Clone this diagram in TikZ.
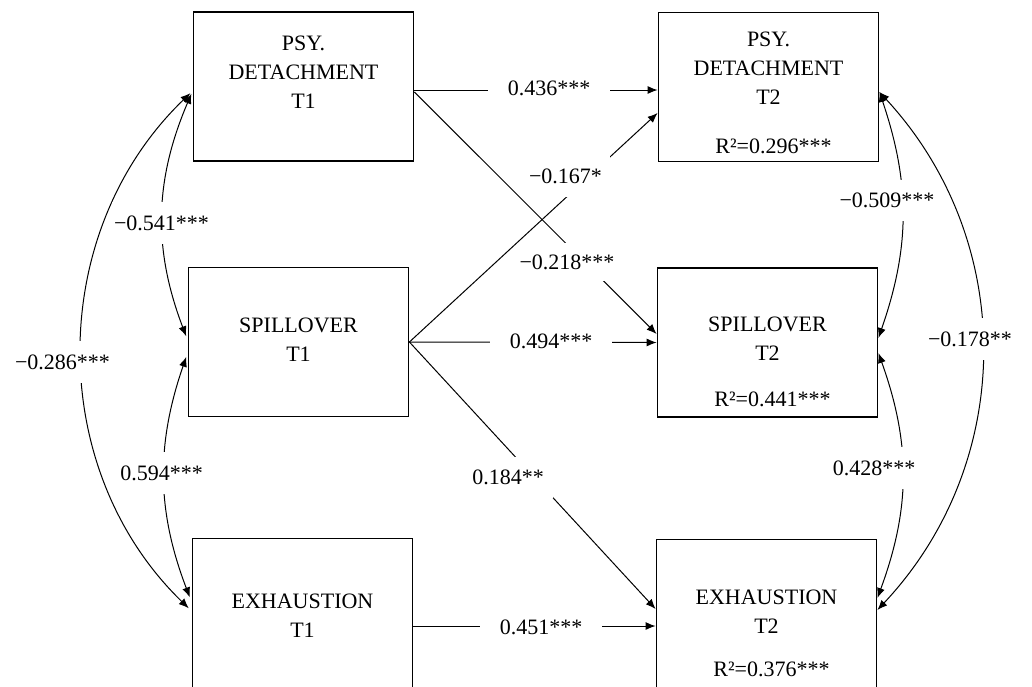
\documentclass[tikz,border=0pt]{standalone}
\usepackage{fontspec}
\setmainfont{Liberation Serif}
\usetikzlibrary{arrows.meta,positioning}

\tikzset{
  box/.style={draw,line width=0.9pt,minimum width=110pt,minimum height=74.5pt,inner sep=0pt},
  txt/.style={align=center,inner sep=0pt},
  lnk/.style={line width=0.5pt},
  coef/.style={fill=white,inner xsep=1pt,inner ysep=6.6pt}
}

\begin{document}
\begin{tikzpicture}[x=0.5pt,y=-0.5pt,font=\fontsize{11}{14.5}\selectfont,
    >={Latex[length=5pt,width=4pt]}]
  \useasboundingbox (0,0) rectangle (1032,686);
  % T1
  \node[box] (P1) at (303.5,86.5) {};
  \node[box] (S1) at (298.5,342) {};
  \node[box] (E1) at (302.5,613) {};
  % T2
  \node[box] (P2) at (768.5,87) {};
  \node[box] (S2) at (767.5,342.5) {};
  \node[box] (E2) at (766.5,614) {};
  \node[txt,below=12pt of P1.north] (P1t) {PSY.\\DETACHMENT\\T1};
  \node[txt,below=25.5pt of S1.north] (S1t) {SPILLOVER\\T1};
  \node[txt,below=28pt of E1.north] (E1t) {EXHAUSTION\\T1};
  \node[txt,below=10pt of P2.north] (P2t) {PSY.\\DETACHMENT\\T2\\[10pt]\hspace*{5pt}R²=0.296***};
  \node[txt,below=24.5pt of S2.north] (S2t) {SPILLOVER\\T2\\[8.5pt]\hspace*{5pt}R²=0.441***};
  \node[txt,below=25.5pt of E2.north] (E2t) {EXHAUSTION\\T2\\[7pt]\hspace*{5pt}R²=0.376***};

  % paths T1 -> T2
  \draw[lnk,->] ([yshift=-1.75pt]P1.east) -- ([yshift=-1.5pt]P2.west);
  \draw[lnk,->] (S1.east) -- (S2.west);
  \draw[lnk,->] ([yshift=-6.5pt]E1.east) -- ([yshift=-6pt]E2.west);
  \draw[lnk,->] ([yshift=-2.75pt]P1.east) -- ([yshift=4.25pt]S2.west);
  \draw[lnk,->] (S1.east) -- ([yshift=-13pt]P2.west);
  \draw[lnk,->] (S1.east) -- ([yshift=2.5pt]E2.west);

  % correlations
  \draw[lnk,<->,shorten <=1.5pt,shorten >=2pt] ([yshift=-2.25pt]P1.west) to[bend right=22] ([yshift=1pt]S1.west);
  \draw[lnk,<->,shorten <=2pt,shorten >=2.5pt] ([yshift=-5.5pt]S1.west) to[bend right=20] ([yshift=5.5pt]E1.west);
  \draw[lnk,<->,shorten <=1.5pt,shorten >=2pt] ([yshift=-2.25pt]P1.west) to[bend right=46] ([yshift=1pt]E1.west);
  \draw[lnk,<->] ([yshift=-2.5pt]P2.east) to[bend left=19] ([yshift=2.25pt]S2.east);
  \draw[lnk,<->] ([yshift=-5.25pt]S2.east) to[bend left=20] ([yshift=8pt]E2.east);
  \draw[lnk,<->] ([yshift=-2.5pt]P2.east) to[bend left=43] ([yshift=2pt]E2.east);

  % coefficients
  \node[coef,inner xsep=10pt] (bPP) at (549,88.5) {0.436***};
  \node[coef,inner xsep=10pt] (bSS) at (551,341.5) {0.494***};
  \node[coef,inner xsep=10pt] (bEE) at (541,627) {0.451***};
  \node[coef,inner xsep=4pt] (bSP) at (565.5,176) {−0.167*};
  \node[coef,inner ysep=6pt] (bPS) at (567,262) {−0.218***};
  \node[coef,inner xsep=4.5pt] (bSE) at (508,477.5) {0.184**};
  \node[coef] (rPS1) at (161.5,223) {−0.541***};
  \node[coef] (rSE1) at (161.5,473) {0.594***};
  \node[coef] (rPE1) at (62.5,362) {−0.286***};
  \node[coef] (rPS2) at (887,200.5) {−0.509***};
  \node[coef] (rSE2) at (874,468) {0.428***};
  \node[coef] (rPE2) at (970,339) {−0.178**};
\end{tikzpicture}
\end{document}
